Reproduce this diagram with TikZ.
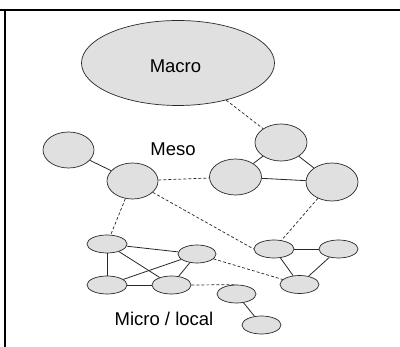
\documentclass[tikz,border=0pt]{standalone}
\usepackage{fontspec}
\setmainfont{Liberation Sans}
\usetikzlibrary{shapes.geometric}
\definecolor{nodefill}{RGB}{224,224,224}
\definecolor{nodeline}{RGB}{40,40,40}
\tikzset{
  blob/.style={ellipse, draw=nodeline, fill=nodefill, line width=0.7pt, inner sep=0pt},
  meso/.style={blob, minimum width=52pt, minimum height=37pt},
  micro/.style={blob, minimum width=39pt, minimum height=18pt},
  solidlink/.style={draw=nodeline, line width=0.8pt},
  dashlink/.style={draw=nodeline, line width=0.7pt, dash pattern=on 3pt off 2pt},
  lbl/.style={font=\fontsize{18.5}{20}\selectfont, inner sep=0pt}
}
\begin{document}
\begin{tikzpicture}[x=1pt,y=-1pt]
\useasboundingbox (0,0) rectangle (400,347);
\fill[white] (0,0) rectangle (400,347);
\draw[line width=2pt] (0,10) -- (400,10);
\draw[line width=1.4pt] (5,10) -- (5,347);
% macro
\node[blob, minimum width=193pt, minimum height=85pt] (macro) at (178,63) {};
\node[lbl] (macrolbl) at (175.5,66) {Macro};
% meso
\node[meso, minimum width=51pt, minimum height=36pt] (m1) at (68.5,150) {};
\node[meso, minimum width=51pt, minimum height=36pt] (m2) at (132.5,181) {};
\node[meso] (m3) at (281,142.5) {};
\node[meso, minimum height=36pt] (m4) at (235.5,177) {};
\node[meso, minimum height=38pt] (m5) at (332,182) {};
\node[lbl] (mesolbl) at (173,149) {Meso};
% micro
\node[micro, minimum width=40pt] (a) at (107,244) {};
\node[micro, minimum width=38pt] (b) at (197,254) {};
\node[micro, minimum width=40pt] (c) at (107,285) {};
\node[micro] (d) at (171.5,285) {};
\node[micro] (e) at (236.5,294) {};
\node[micro] (f) at (261.5,325) {};
\node[micro, minimum width=40pt] (g) at (274,249) {};
\node[micro] (h) at (338.5,249) {};
\node[micro] (i) at (299.5,284.5) {};
\node[lbl] (microlbl) at (164,319) {Micro / local};
% solid links
\draw[solidlink] (m1) -- (m2);
\draw[solidlink] (m3) -- (m4);
\draw[solidlink] (m3) -- (m5);
\draw[solidlink] (m4) -- (m5);
\draw[solidlink] (a) -- (b);
\draw[solidlink] (a) -- (c);
\draw[solidlink] (a) -- (d);
\draw[solidlink] (c) -- (b);
\draw[solidlink] (c) -- (d);
\draw[solidlink] (d) -- (b);
\draw[solidlink] (e) -- (f);
\draw[solidlink] (g) -- (h);
\draw[solidlink] (g) -- (i);
\draw[solidlink] (h) -- (i);
% dashed links
\draw[dashlink] (macro) -- (m3);
\draw[dashlink] (m2) -- (m4);
\draw[dashlink] (m2) -- (a);
\draw[dashlink] (m2) -- (g.west);
\draw[dashlink] (m5) -- (g);
\draw[dashlink] (b) -- (i);
\draw[dashlink] (d.east) -- (e.north);
\end{tikzpicture}
\end{document}
